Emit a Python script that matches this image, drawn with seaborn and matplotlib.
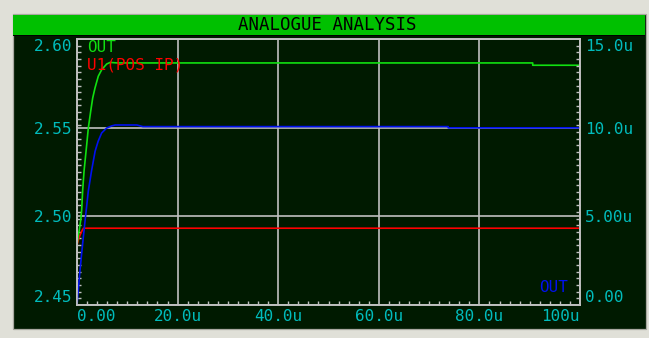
import numpy as np
import matplotlib
matplotlib.use('Agg')
import matplotlib.pyplot as plt
import seaborn as sns
from matplotlib.patches import Rectangle
from matplotlib.ticker import FixedLocator

# time in microseconds
t_out = [0.0, 0.26, 0.46, 0.74, 0.93, 1.13, 1.4, 1.93, 2.25, 2.72, 3.12, 3.58, 4.23, 4.91, 5.9, 6.6, 8.0, 90.6, 90.6, 100.0]
v_out = [2.484, 2.4894, 2.4923, 2.4979, 2.5036, 2.5148, 2.5255, 2.5404, 2.5498, 2.5592, 2.5667, 2.5724, 2.579, 2.5827, 2.5859, 2.5868, 2.5865, 2.5865, 2.5852, 2.5852]

t_pos = [0.0, 0.26, 0.6, 1.05, 1.3, 100.0]
v_pos = [2.4838, 2.4866, 2.4894, 2.4922, 2.4933, 2.4933]

# output current, uA (right axis)
t_iout = [0.0, 0.6, 1.25, 1.6, 2.25, 2.9, 3.6, 4.2, 4.9, 5.9, 6.9, 7.6, 11.9, 13.1, 73.8, 73.8, 100.0]
i_out = [0.0, 1.97, 3.81, 4.74, 6.43, 7.58, 8.67, 9.23, 9.70, 9.98, 10.1, 10.15, 10.15, 10.06, 10.06, 9.99, 9.99]

x_ticks = [0, 20, 40, 60, 80, 100]
x_labels = ['0.00', '20.0u', '40.0u', '60.0u', '80.0u', '100u']
y_ticks = [2.45, 2.50, 2.55, 2.60]
y_labels = ['2.45', '2.50', '2.55', '2.60']
r_ticks = [0, 5, 10, 15]
r_labels = ['0.00', '5.00u', '10.0u', '15.0u']

W, H = 649, 338
grid_c = '#c0c0c0'
lab_c = '#00bcbc'
font = 'DejaVu Sans Mono'
fs = 11.5

fig = plt.figure(figsize=(W / 100, H / 100), dpi=100)
fig.patch.set_facecolor('#e0e0d8')

# dark panel + green title bar
fig.patches.append(Rectangle((12.5 / W, 1 - 328.5 / H), 633 / W, 315 / H, transform=fig.transFigure,
                             facecolor='#001a00', edgecolor='#a8a8a0', lw=0.9, zorder=-3))
fig.patches.append(Rectangle((13 / W, 1 - 36 / H), 632 / W, 2 / H, transform=fig.transFigure,
                             facecolor='black', edgecolor='none', zorder=-2))
fig.patches.append(Rectangle((13 / W, 1 - 34.5 / H), 632 / W, 20 / H, transform=fig.transFigure,
                             facecolor='#00c000', edgecolor='none', zorder=-1))
fig.text(327 / W, 1 - 25 / H, 'ANALOGUE ANALYSIS', ha='center', va='center',
         family=font, fontsize=12.5, color='black')

ax = fig.add_axes([77 / W, 1 - 305 / H, 503 / W, 266 / H])
ax.set_facecolor('#001a00')
ax.set_xlim(0, 100)
ax.set_ylim(2.45, 2.60)

sns.lineplot(x=t_pos, y=v_pos, ax=ax, color='#ff0000', lw=1.2, estimator=None, sort=False)
sns.lineplot(x=t_out, y=v_out, ax=ax, color='#10e010', lw=1.2, estimator=None, sort=False)

ax.set_xticks(x_ticks, x_labels)
ax.set_yticks(y_ticks, y_labels)
ax.xaxis.set_minor_locator(FixedLocator(np.arange(0, 101, 2)))
ax.yaxis.set_minor_locator(FixedLocator(np.linspace(2.45, 2.60, 41)))
ax.grid(True, which='major', color=grid_c, lw=1.2)
ax.tick_params(which='major', length=0, pad=3, labelcolor=lab_c, labelsize=fs)
ax.tick_params(which='minor', direction='in', length=2.6, width=1, color=grid_c)
for lab in ax.get_xticklabels() + ax.get_yticklabels():
    lab.set_family(font)
xl = ax.get_xticklabels()
xl[0].set_ha('left')
xl[-1].set_ha('right')
yl = ax.get_yticklabels()
yl[0].set_va('bottom')
yl[-1].set_va('top')
for sp in ax.spines.values():
    sp.set_color(grid_c)
    sp.set_linewidth(1.2)
ax.set_xlabel('')
ax.set_ylabel('')

ax2 = ax.twinx()
ax2.set_ylim(0, 15)
sns.lineplot(x=t_iout, y=i_out, ax=ax2, color='#0010f0', lw=1.2, estimator=None, sort=False)
ax2.set_yticks(r_ticks, r_labels)
ax2.yaxis.set_minor_locator(FixedLocator(np.linspace(0, 15, 41)))
ax2.tick_params(which='major', length=0, pad=3.5, labelcolor=lab_c, labelsize=fs)
ax2.tick_params(which='minor', direction='in', length=2.6, width=1, color=grid_c)
for lab in ax2.get_yticklabels():
    lab.set_family(font)
rl = ax2.get_yticklabels()
rl[0].set_va('bottom')
rl[-1].set_va('top')
for sp in ax2.spines.values():
    sp.set_color(grid_c)
    sp.set_linewidth(1.2)
ax2.set_ylabel('')

# trace names
fig.text(87 / W, 1 - 48 / H, 'OUT', ha='left', va='center', family=font, fontsize=fs, color='#10e010')
fig.text(87 / W, 1 - 65 / H, 'U1(POS IP)', ha='left', va='center', family=font, fontsize=fs, color='#ff0000')
fig.text(568 / W, 1 - 287 / H, 'OUT', ha='right', va='center', family=font, fontsize=fs, color='#0010f0')

fig.savefig('out.png', dpi=100, facecolor=fig.get_facecolor())
